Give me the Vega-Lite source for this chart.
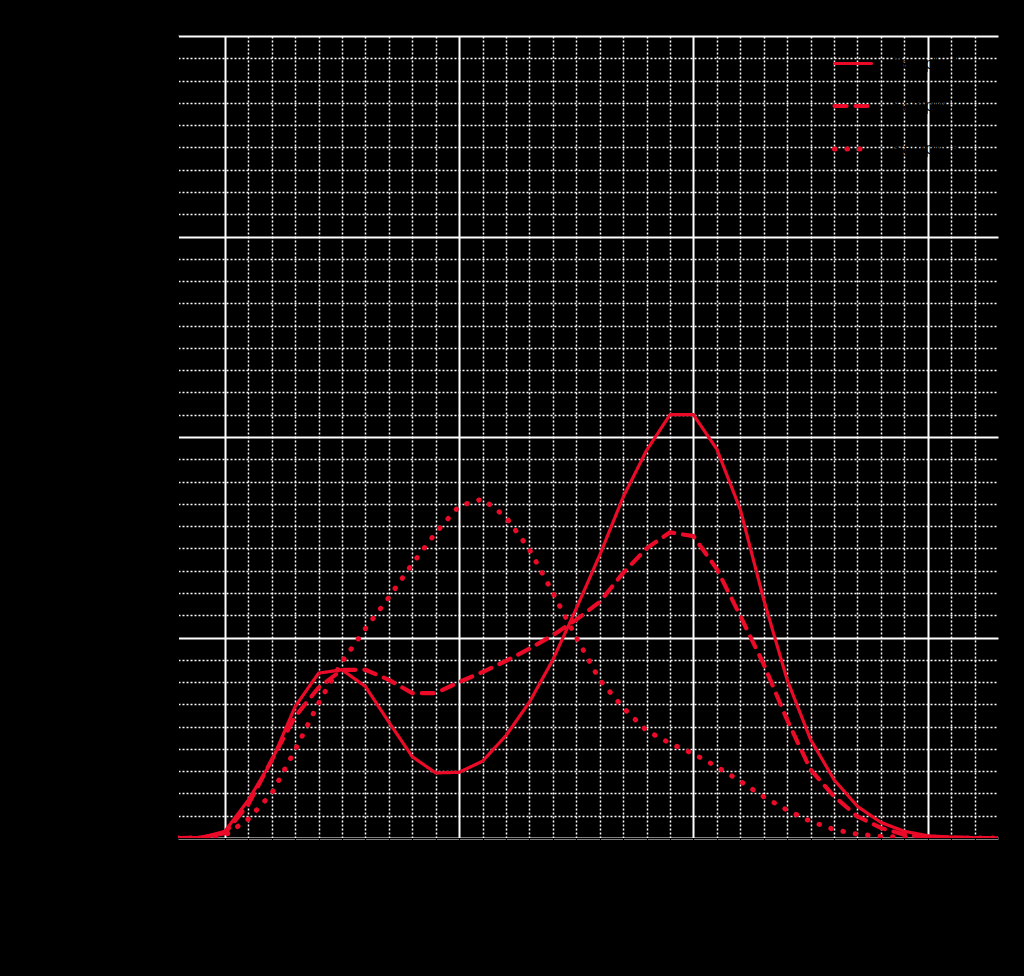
{
  "$schema": "https://vega.github.io/schema/vega-lite/v6.json",
  "autosize": "none",
  "padding": {"left": 178, "top": 36, "right": 26, "bottom": 138},
  "width": 820,
  "height": 802,
  "background": "black",
  "data": {
    "values": [
      {"wl": 380, "series": "Sample 1", "v": 0}, {"wl": 380, "series": "Sample 2", "v": 0}, {"wl": 380, "series": "Sample 3", "v": 0},
      {"wl": 390, "series": "Sample 1", "v": 0.02}, {"wl": 390, "series": "Sample 2", "v": 0.02}, {"wl": 390, "series": "Sample 3", "v": 0},
      {"wl": 400, "series": "Sample 1", "v": 0.3}, {"wl": 400, "series": "Sample 2", "v": 0.22}, {"wl": 400, "series": "Sample 3", "v": 0.12},
      {"wl": 410, "series": "Sample 1", "v": 1.7}, {"wl": 410, "series": "Sample 2", "v": 1.5}, {"wl": 410, "series": "Sample 3", "v": 0.85},
      {"wl": 420, "series": "Sample 1", "v": 3.45}, {"wl": 420, "series": "Sample 2", "v": 3.5}, {"wl": 420, "series": "Sample 3", "v": 2.0},
      {"wl": 430, "series": "Sample 1", "v": 5.9}, {"wl": 430, "series": "Sample 2", "v": 5.45}, {"wl": 430, "series": "Sample 3", "v": 3.95},
      {"wl": 440, "series": "Sample 1", "v": 7.4}, {"wl": 440, "series": "Sample 2", "v": 6.75}, {"wl": 440, "series": "Sample 3", "v": 6.05},
      {"wl": 450, "series": "Sample 1", "v": 7.55}, {"wl": 450, "series": "Sample 2", "v": 7.55}, {"wl": 450, "series": "Sample 3", "v": 7.9},
      {"wl": 460, "series": "Sample 1", "v": 6.8}, {"wl": 460, "series": "Sample 2", "v": 7.55}, {"wl": 460, "series": "Sample 3", "v": 9.4},
      {"wl": 470, "series": "Sample 1", "v": 5.2}, {"wl": 470, "series": "Sample 2", "v": 7.1}, {"wl": 470, "series": "Sample 3", "v": 10.8},
      {"wl": 480, "series": "Sample 1", "v": 3.65}, {"wl": 480, "series": "Sample 2", "v": 6.5}, {"wl": 480, "series": "Sample 3", "v": 12.3},
      {"wl": 490, "series": "Sample 1", "v": 2.92}, {"wl": 490, "series": "Sample 2", "v": 6.5}, {"wl": 490, "series": "Sample 3", "v": 13.7},
      {"wl": 500, "series": "Sample 1", "v": 2.95}, {"wl": 500, "series": "Sample 2", "v": 7.0}, {"wl": 500, "series": "Sample 3", "v": 14.9},
      {"wl": 510, "series": "Sample 1", "v": 3.45}, {"wl": 510, "series": "Sample 2", "v": 7.45}, {"wl": 510, "series": "Sample 3", "v": 15.22},
      {"wl": 520, "series": "Sample 1", "v": 4.6}, {"wl": 520, "series": "Sample 2", "v": 7.95}, {"wl": 520, "series": "Sample 3", "v": 14.4},
      {"wl": 530, "series": "Sample 1", "v": 6.1}, {"wl": 530, "series": "Sample 2", "v": 8.5}, {"wl": 530, "series": "Sample 3", "v": 12.95},
      {"wl": 540, "series": "Sample 1", "v": 8.0}, {"wl": 540, "series": "Sample 2", "v": 9.1}, {"wl": 540, "series": "Sample 3", "v": 11.0},
      {"wl": 550, "series": "Sample 1", "v": 10.3}, {"wl": 550, "series": "Sample 2", "v": 9.8}, {"wl": 550, "series": "Sample 3", "v": 9.0},
      {"wl": 560, "series": "Sample 1", "v": 12.7}, {"wl": 560, "series": "Sample 2", "v": 10.6}, {"wl": 560, "series": "Sample 3", "v": 7.1},
      {"wl": 570, "series": "Sample 1", "v": 15.3}, {"wl": 570, "series": "Sample 2", "v": 11.9}, {"wl": 570, "series": "Sample 3", "v": 5.85},
      {"wl": 580, "series": "Sample 1", "v": 17.4}, {"wl": 580, "series": "Sample 2", "v": 13.0}, {"wl": 580, "series": "Sample 3", "v": 4.82},
      {"wl": 590, "series": "Sample 1", "v": 19.0}, {"wl": 590, "series": "Sample 2", "v": 13.72}, {"wl": 590, "series": "Sample 3", "v": 4.25},
      {"wl": 600, "series": "Sample 1", "v": 19.0}, {"wl": 600, "series": "Sample 2", "v": 13.55}, {"wl": 600, "series": "Sample 3", "v": 3.78},
      {"wl": 610, "series": "Sample 1", "v": 17.45}, {"wl": 610, "series": "Sample 2", "v": 12.07}, {"wl": 610, "series": "Sample 3", "v": 3.2},
      {"wl": 620, "series": "Sample 1", "v": 14.75}, {"wl": 620, "series": "Sample 2", "v": 9.97}, {"wl": 620, "series": "Sample 3", "v": 2.55},
      {"wl": 630, "series": "Sample 1", "v": 10.7}, {"wl": 630, "series": "Sample 2", "v": 7.8}, {"wl": 630, "series": "Sample 3", "v": 1.85},
      {"wl": 640, "series": "Sample 1", "v": 7.1}, {"wl": 640, "series": "Sample 2", "v": 5.3}, {"wl": 640, "series": "Sample 3", "v": 1.25},
      {"wl": 650, "series": "Sample 1", "v": 4.42}, {"wl": 650, "series": "Sample 2", "v": 3.07}, {"wl": 650, "series": "Sample 3", "v": 0.75},
      {"wl": 660, "series": "Sample 1", "v": 2.62}, {"wl": 660, "series": "Sample 2", "v": 1.87}, {"wl": 660, "series": "Sample 3", "v": 0.38},
      {"wl": 670, "series": "Sample 1", "v": 1.42}, {"wl": 670, "series": "Sample 2", "v": 0.97}, {"wl": 670, "series": "Sample 3", "v": 0.17},
      {"wl": 680, "series": "Sample 1", "v": 0.7}, {"wl": 680, "series": "Sample 2", "v": 0.45}, {"wl": 680, "series": "Sample 3", "v": 0.08},
      {"wl": 690, "series": "Sample 1", "v": 0.3}, {"wl": 690, "series": "Sample 2", "v": 0.15}, {"wl": 690, "series": "Sample 3", "v": 0.03},
      {"wl": 700, "series": "Sample 1", "v": 0.1}, {"wl": 700, "series": "Sample 2", "v": 0.05}, {"wl": 700, "series": "Sample 3", "v": 0.01},
      {"wl": 710, "series": "Sample 1", "v": 0.04}, {"wl": 710, "series": "Sample 2", "v": 0.02}, {"wl": 710, "series": "Sample 3", "v": 0},
      {"wl": 720, "series": "Sample 1", "v": 0.01}, {"wl": 720, "series": "Sample 2", "v": 0}, {"wl": 720, "series": "Sample 3", "v": 0},
      {"wl": 730, "series": "Sample 1", "v": 0}, {"wl": 730, "series": "Sample 2", "v": 0}, {"wl": 730, "series": "Sample 3", "v": 0}
    ]
  },
  "mark": {"type": "line", "color": "#eb0a28", "strokeCap": "round", "strokeJoin": "round", "clip": true},
  "encoding": {
    "x": {
      "field": "wl",
      "type": "quantitative",
      "title": "Wavelength (nm)",
      "scale": {"domain": [380, 730], "nice": false, "zero": false},
      "axis": {
        "values": [400, 410, 420, 430, 440, 450, 460, 470, 480, 490, 500, 510, 520, 530, 540, 550, 560, 570, 580, 590, 600, 610, 620, 630, 640, 650, 660, 670, 680, 690, 700, 710, 720],
        "labelExpr": "datum.value % 100 === 0 ? datum.label : ''",
        "gridDash": {"condition": {"test": "datum.value % 100 === 0", "value": []}, "value": [2, 2]},
        "gridWidth": {"condition": {"test": "datum.value % 100 === 0", "value": 2}, "value": 1.5}
      }
    },
    "y": {
      "field": "v",
      "type": "quantitative",
      "title": "Value",
      "scale": {"domain": [0, 36], "nice": false},
      "axis": {
        "values": [0, 1, 2, 3, 4, 5, 6, 7, 8, 9, 10, 11, 12, 13, 14, 15, 16, 17, 18, 19, 20, 21, 22, 23, 24, 25, 26, 27, 28, 29, 30, 31, 32, 33, 34, 35, 36],
        "labelExpr": "datum.value % 9 === 0 ? datum.label : ''",
        "gridDash": {"condition": {"test": "datum.value % 9 === 0", "value": []}, "value": [2, 2]},
        "gridWidth": {"condition": {"test": "datum.value % 9 === 0", "value": 2}, "value": 1.5}
      }
    },
    "strokeDash": {
      "field": "series",
      "type": "nominal",
      "title": null,
      "scale": {"domain": ["Sample 1", "Sample 2", "Sample 3"], "range": [[1, 0], [12, 9], [0.5, 12]]},
      "legend": {
        "orient": "none",
        "legendX": 654,
        "legendY": 7,
        "padding": 0,
        "symbolType": "stroke",
        "symbolSize": 1369,
        "symbolStrokeColor": "#eb0a28",
        "symbolStrokeWidth": 4,
        "rowPadding": 13,
        "labelOffset": 18,
        "labelFontSize": 16,
        "labelColor": "black",
        "encoding": {"symbols": {"strokeCap": {"value": "round"}}}
      }
    },
    "strokeWidth": {
      "field": "series",
      "type": "ordinal",
      "scale": {"type": "ordinal", "domain": ["Sample 1", "Sample 2", "Sample 3"], "range": [3.2, 4.2, 5]},
      "legend": null
    }
  },
  "config": {
    "view": {"stroke": null},
    "axis": {
      "grid": true,
      "gridColor": "white",
      "gridOpacity": 1,
      "domainColor": "black",
      "tickColor": "black",
      "labelColor": "black",
      "titleColor": "black",
      "labelFontSize": 16,
      "titleFontSize": 18,
      "labelFont": "Liberation Sans",
      "titleFont": "Liberation Sans"
    },
    "legend": {"labelFont": "Liberation Sans"}
  }
}
